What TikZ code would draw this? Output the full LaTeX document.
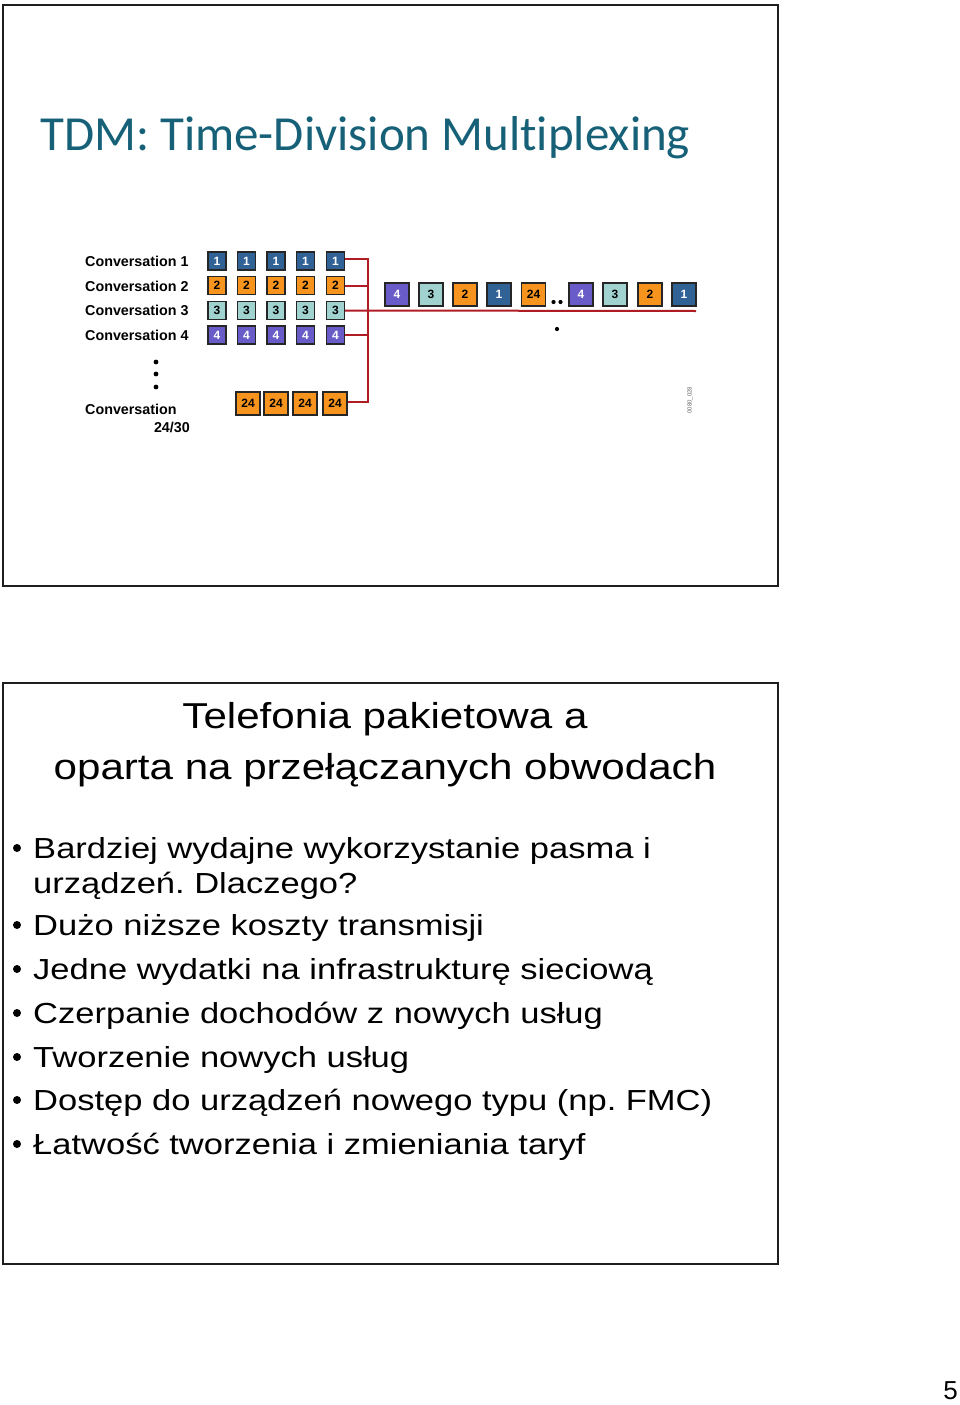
\documentclass[tikz,border=0pt]{standalone}
\usepackage{fontspec}
\setmainfont{Liberation Sans}
\newfontfamily\titlefont[Ligatures=NoCommon]{Carlito}
\frenchspacing
\definecolor{titlecol}{RGB}{22,96,120}
\definecolor{frm}{RGB}{30,30,30}
\definecolor{redln}{RGB}{176,28,36}
\definecolor{cA}{RGB}{48,98,150}
\definecolor{cB}{RGB}{247,148,29}
\definecolor{cC}{RGB}{160,210,208}
\definecolor{cD}{RGB}{106,92,200}
\tikzset{
  slide/.style={draw=frm, line width=2.4pt},
  conv/.style={font=\fontsize{14.3}{16}\selectfont\bfseries, anchor=base west, inner sep=0},
  pkt/.style={draw=black!85, line width=1.3pt, minimum width=18pt, minimum height=18pt, inner sep=0pt, font=\fontsize{12}{13}\selectfont\bfseries},
  big/.style={pkt, minimum width=24pt, minimum height=23pt},
  pA/.style={fill=cA, text=white},
  pB/.style={fill=cB, text=black},
  pC/.style={fill=cC, text=black},
  pD/.style={fill=cD, text=white},
  wire/.style={draw=redln, line width=2pt},
  dotmark/.style={circle, fill=black, inner sep=0pt, minimum size=4.8pt},
  bul/.style={font=\fontsize{29}{33}\selectfont, anchor=base west, inner sep=0, xscale=1.19},
  btitle/.style={font=\fontsize{36}{40}\selectfont, anchor=base, inner sep=0, xscale=1.17},
}
\begin{document}
\begin{tikzpicture}[x=1pt,y=-1pt]
\useasboundingbox (0,0) rectangle (960,1405);
% slide frames
\draw[slide] (3,5) rectangle (778,586);
\draw[slide] (3,683) rectangle (778,1264);
% title
\node[font=\titlefont\fontsize{49}{54}\selectfont, text=titlecol, anchor=base west, inner sep=0] (title) at (40,150) {TDM: Time-Division Multiplexing};
% conversation labels
\node[conv] (l1) at (85,266) {Conversation 1};
\node[conv] (l2) at (85,291) {Conversation 2};
\node[conv] (l3) at (85,315) {Conversation 3};
\node[conv] (l4) at (85,340) {Conversation 4};
\node[conv] (l5) at (85,414) {Conversation};
\node[conv, anchor=base east] (l6) at (190,432) {24/30};
\node[dotmark] (d1) at (156,362) {};
\node[dotmark] (d2) at (156,374) {};
\node[dotmark] (d3) at (156,387) {};
% input packets
\foreach \x [count=\i] in {217,246.5,276,305.5,335.5}{
  \node[pkt,pA] (a\i) at (\x,261) {1};
  \node[pkt,pB] (b\i) at (\x,285.5) {2};
  \node[pkt,pC] (c\i) at (\x,310.5) {3};
  \node[pkt,pD] (e\i) at (\x,335) {4};
}
\foreach \x [count=\i] in {248,276,305,335}{
  \node[big,pB] (f\i) at (\x,403.5) {24};
}
% junction wires
\coordinate (jt) at (368,259);
\coordinate (jb) at (368,402);
\coordinate (oend) at (696,311);
\draw[wire] (a5.east |- jt) -- (jt) -- (jb) -- (f4.east |- jb);
\draw[wire] (b5.east) -- (b5.east -| jt);
\draw[wire] (c5.east) -- (oend);
\draw[wire] (e5.east) -- (e5.east -| jt);
% output packets
\node[big,pD] (o1) at (397,294.5) {4};
\node[big,pC] (o2) at (431,294.5) {3};
\node[big,pB] (o3) at (465,294.5) {2};
\node[big,pA] (o4) at (499,294.5) {1};
\node[big,pB] (o5) at (533.5,294.5) {24};
\node[big,pD] (o6) at (581,294.5) {4};
\node[big,pC] (o7) at (615,294.5) {3};
\node[big,pB] (o8) at (650,294.5) {2};
\node[big,pA] (o9) at (684,294.5) {1};
\node[dotmark, minimum size=4.2pt] (od1) at (553.5,302) {};
\node[dotmark, minimum size=4.2pt] (od2) at (560.5,302) {};
\node[dotmark, minimum size=4.2pt] (od3) at (557,329) {};
\node[rotate=90, font=\fontsize{6}{7}\selectfont, text=black!60, inner sep=0] (code) at (690,400) {0080\_028};
% second slide
\node[btitle] (t1) at (385,728) {Telefonia pakietowa a};
\node[btitle] (t2) at (385,779) {oparta na przełączanych obwodach};
\foreach \t [count=\i] in {858,935,979,1023,1067,1110,1154}{
  \node[dotmark, minimum size=8pt] (bd\i) at (17,\t-10) {};
}
\node[bul] (b1) at (33,858) {Bardziej wydajne wykorzystanie pasma i};
\node[bul] (b1b) at (33,893) {urządzeń. Dlaczego?};
\node[bul] (b2) at (33,935) {Dużo niższe koszty transmisji};
\node[bul] (b3) at (33,979) {Jedne wydatki na infrastrukturę sieciową};
\node[bul] (b4) at (33,1023) {Czerpanie dochodów z nowych usług};
\node[bul] (b5) at (33,1067) {Tworzenie nowych usług};
\node[bul] (b6) at (33,1110) {Dostęp do urządzeń nowego typu (np. FMC)};
\node[bul] (b7) at (33,1154) {Łatwość tworzenia i zmieniania taryf};
% page number
\node[font=\fontsize{26}{28}\selectfont, anchor=base east, inner sep=0] (pg) at (958,1399) {5};
\end{tikzpicture}
\end{document}
